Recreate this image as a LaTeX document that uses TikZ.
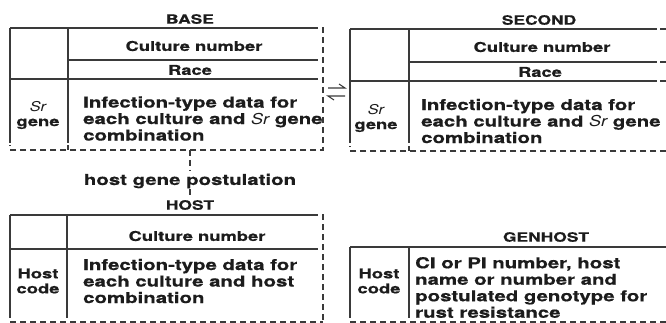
\documentclass[tikz,border=0pt]{standalone}
\usepackage{fontspec}
\newfontfamily\hv[FakeStretch=1.36,FakeBold=0.6]{TeX Gyre Heros}
\newfontfamily\hvi[FakeStretch=1.2]{TeX Gyre Heros}
\definecolor{ink}{HTML}{1C1C1C}
\definecolor{ln}{HTML}{3A3A3A}
\newcommand{\Sr}{{\hvi\mdseries\itshape Sr}}
\tikzset{
  txt/.style={font=\hv\bfseries\fontsize{15}{16.5}\selectfont, text=ink, inner sep=0pt},
  hdr/.style={txt, font=\hv\bfseries\fontsize{13.5}{16}\selectfont},
  ttl/.style={txt, font=\hv\bfseries\fontsize{12.8}{15}\selectfont},
  lbl/.style={txt, align=center, font=\hv\bfseries\fontsize{13.5}{15}\selectfont},
  body/.style={txt, align=left, anchor=west},
  ctr/.style={txt, align=center},
  solidl/.style={line width=1.3pt, draw=ln},
  dashl/.style={line width=1.2pt, draw=ln, dash pattern=on 6pt off 4pt},
}
\begin{document}
\begin{tikzpicture}[x=1pt,y=-1pt]
\useasboundingbox[fill=white] (0,0) rectangle (666,323);

% ---------------- BASE ----------------
\node[ttl] (baset) at (190,19) {BASE};
\draw[solidl] (10,28) -- (312,28);
\draw[solidl] (68,60) -- (312,60);
\draw[solidl] (10,79) -- (312,79);
\draw[solidl] (10,28) -- (10,143);
\draw[solidl] (68,28) -- (68,143);
\draw[dashl] (312,28) -- (323,28) -- (323,150) -- (10,150) -- (10,145);
\draw[dashl] (312,60) -- (323,60);
\draw[dashl] (312,79) -- (323,79);
\draw[dashl] (68,150) -- (68,145);
\node[hdr] (bcult) at (194,46) {Culture number};
\node[hdr] (brace) at (190,70) {Race};
\node[lbl] (bsr) at (38,115) {\Sr\\gene};
\node[body] (bbody) at (83,118.5) {Infection-type data for\\each culture and \Sr{} gene\\combination};
\coordinate (bbot) at (190,150);

% ---------------- harpoons ----------------
\coordinate (h1a) at (328,88);
\coordinate (h1b) at (345,88);
\coordinate (h2a) at (345,96);
\coordinate (h2b) at (328,96);
\draw[solidl, line width=1.1pt] (h1a) -- (h1b) -- ++(-6,-4);
\draw[solidl, line width=1.1pt] (h2a) -- (h2b) -- ++(6,4);

% ---------------- SECOND ----------------
\node[ttl] (sect) at (539,20) {SECOND};
\draw[solidl] (350,29) -- (657,29);
\draw[solidl] (409,62) -- (657,62);
\draw[solidl] (350,81) -- (657,81);
\draw[solidl] (350,29) -- (350,143);
\draw[solidl] (409,29) -- (409,143);
\draw[dashl] (660,29) -- (666,29);
\draw[dashl] (660,62) -- (666,62);
\draw[dashl] (660,81) -- (666,81);
\draw[dashl] (666,151) -- (350,151) -- (350,146);
\draw[dashl] (409,151) -- (409,146);
\node[hdr] (scult) at (542,47) {Culture number};
\node[hdr] (srace) at (540,72) {Race};
\node[lbl] (ssr) at (376,118) {\Sr\\gene};
\node[body] (sbody) at (421,121) {Infection-type data for\\each culture and \Sr{} gene\\combination};

% ---------------- connector ----------------
\node[ctr] (hgp) at (190,181) {host gene postulation};
\draw[dashl] (bbot) -- ([yshift=3pt]hgp.north -| bbot);

% ---------------- HOST ----------------
\node[ttl] (hostt) at (190,205) {HOST};
\draw[dashl] ([yshift=-1pt]hgp.south -| bbot) -- ([yshift=1pt]hostt.north -| bbot);
\draw[solidl] (10,215) -- (312,215);
\draw[solidl] (10,249) -- (312,249);
\draw[solidl] (10,215) -- (10,318);
\draw[solidl] (67,215) -- (67,318);
\draw[dashl] (312,215) -- (323,215) -- (323,323);
\draw[dashl] (312,249) -- (323,249);
\draw[dashl] (10,322) -- (323,322);
\node[hdr] (hcult) at (197,236) {Culture number};
\node[lbl] (hcode) at (38,281) {Host\\code};
\node[body] (hbody) at (83,281) {Infection-type data for\\each culture and host\\combination};

% ---------------- GENHOST ----------------
\node[ttl] (gent) at (546,237) {GENHOST};
\draw[solidl] (350,247) -- (666,247);
\draw[solidl] (350,247) -- (350,318);
\draw[solidl] (409,247) -- (409,318);
\draw[dashl] (350,322) -- (666,322);
\node[lbl] (gcode) at (379,281) {Host\\code};
\node[body] (gbody) at (415,287.5) {CI or PI number, host\\name or number and\\postulated genotype for\\rust resistance};
\end{tikzpicture}
\end{document}
